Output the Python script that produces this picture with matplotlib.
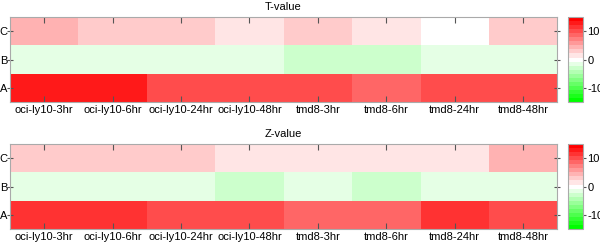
import numpy as np
import matplotlib
matplotlib.use("Agg")
from matplotlib import pyplot as plt
from matplotlib.colors import LinearSegmentedColormap

plt.rcParams['font.family'] = ['Liberation Sans', 'DejaVu Sans']
plt.rcParams['axes.unicode_minus'] = False

# Данные
samples = ["oci-ly10-3hr", "oci-ly10-6hr", "oci-ly10-24hr", "oci-ly10-48hr",
           "tmd8-3hr", "tmd8-6hr", "tmd8-24hr", "tmd8-48hr"]
rows = ["A", "B", "C"]

t_A = [13.0, 13.0, 10.5, 9.5, 9.5, 8.0, 9.5, 9.5]
t_B = [-1.5, -1.5, -1.5, -1.5, -3.0, -3.0, -1.5, -1.5]
t_C = [4.5, 3.0, 3.0, 1.5, 3.5, 1.5, 0.0, 3.5]

z_A = [12.0, 12.0, 10.5, 10.5, 8.0, 8.0, 11.0, 9.5]
z_B = [-1.5, -1.5, -1.5, -3.0, -1.5, -3.0, -1.5, -1.5]
z_C = [3.0, 3.0, 3.0, 1.5, 1.5, 1.5, 1.5, 4.5]

cmap = LinearSegmentedColormap.from_list("gwr", ["#00ff00", "#ffffff", "#ff0000"], N=21)

fig = plt.figure(figsize=(6, 2.44), dpi=100)

panels = [("T-value", [t_A, t_B, t_C], 0.582), ("Z-value", [z_A, z_B, z_C], 0.0615)]
for title, data, y0 in panels:
    ax = fig.add_axes([0.0167, y0, 0.912, 0.348])
    cax = fig.add_axes([0.947, y0, 0.025, 0.348])
    im = ax.imshow(np.array(data), cmap=cmap, vmin=-15, vmax=15, aspect="auto",
                   origin="lower", interpolation="nearest")
    ax.set_xticks(range(len(samples)))
    ax.set_xticklabels(samples, fontsize=8)
    ax.set_yticks(range(len(rows)))
    ax.set_yticklabels(rows, fontsize=8)
    ax.tick_params(axis="x", direction="in", top=True, length=4, color="#555555", pad=2)
    ax.tick_params(axis="y", direction="inout", right=True, length=4, color="#555555", pad=0)
    for s in ax.spines.values():
        s.set_color("#aaaaaa")
    ax.set_title(title, fontsize=8, pad=5)
    cb = fig.colorbar(im, cax=cax, ticks=[-10, 0, 10])
    cb.ax.tick_params(labelsize=8, length=2, color="#555555", pad=1)
    cb.outline.set_edgecolor("#aaaaaa")

plt.savefig("out.png", dpi=100)
